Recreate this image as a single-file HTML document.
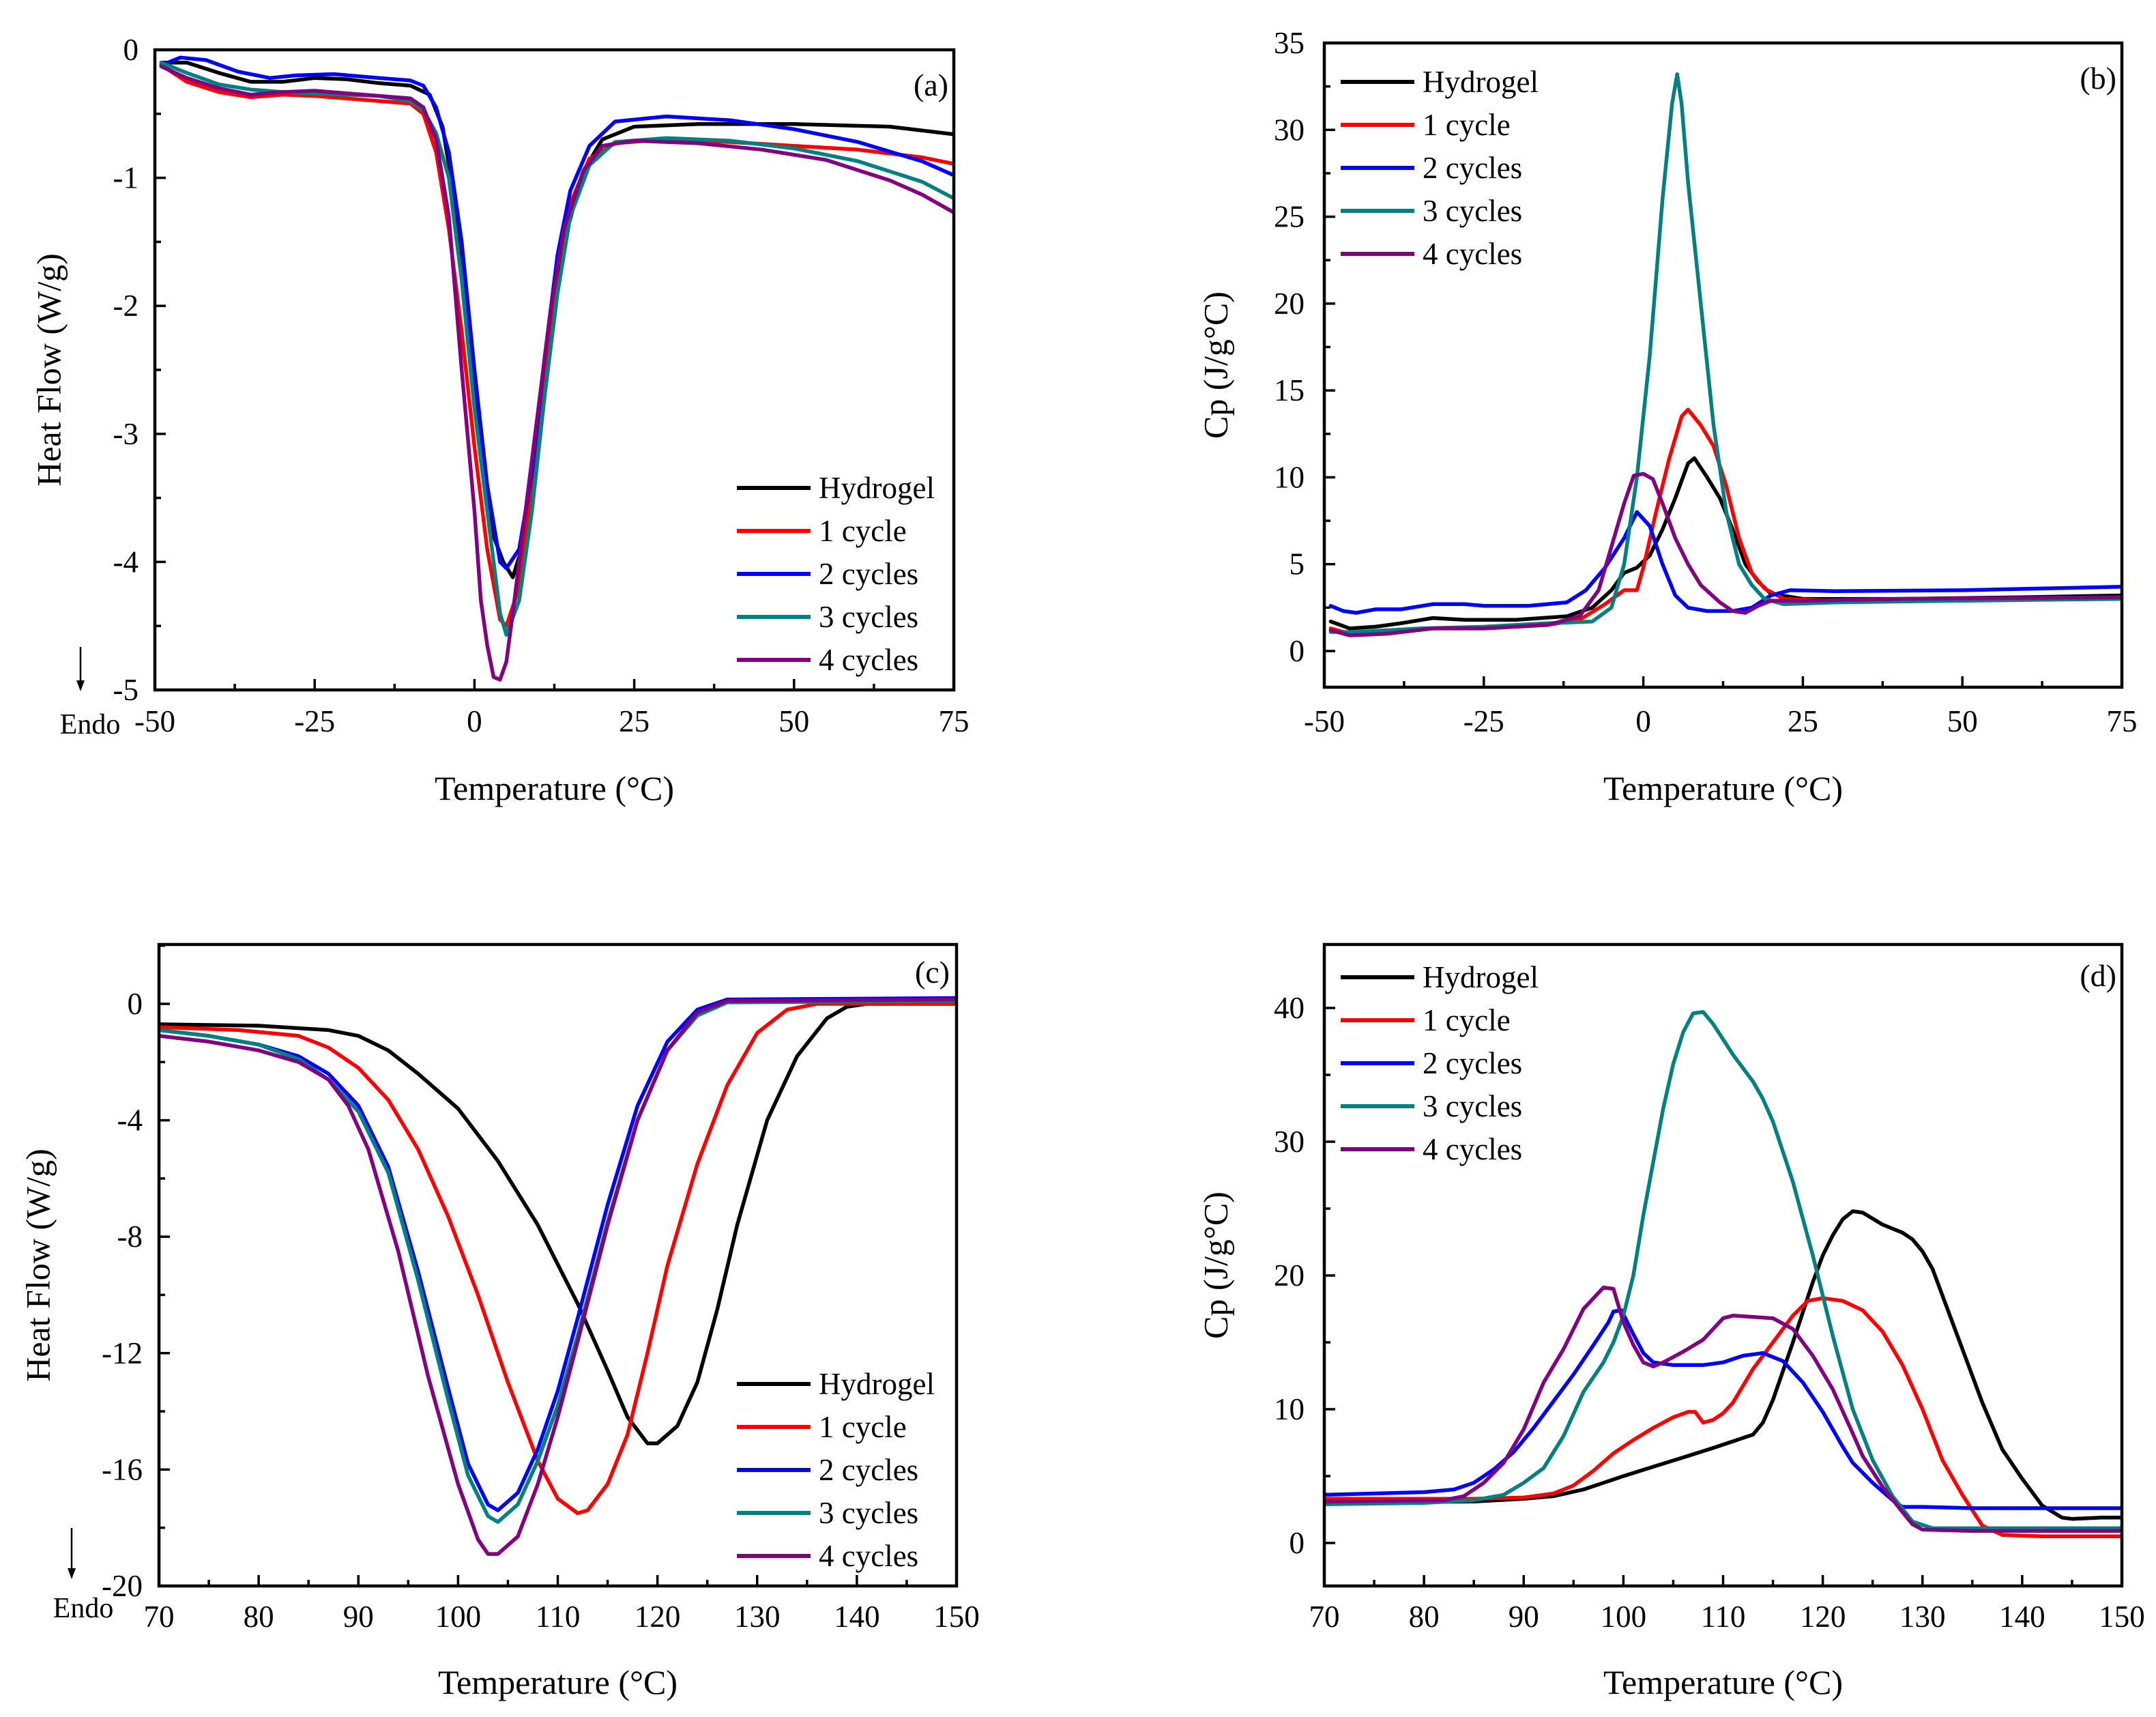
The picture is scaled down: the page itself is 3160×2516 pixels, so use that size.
<!DOCTYPE html>
<html><head><meta charset="utf-8">
<style>
html,body{margin:0;padding:0;background:#fff;}
svg{display:block;}
text{font-family:"Liberation Serif",serif;fill:#000;}
</style></head>
<body>
<svg id="fig" width="3160" height="2516" viewBox="0 0 3160 2516" xmlns="http://www.w3.org/2000/svg"></svg>
<script>
// ---------- data ----------
const seriesNames = ["Hydrogel","1 cycle","2 cycles","3 cycles","4 cycles"];
const seriesColors = ["#000000","#ff0000","#0000ff","#008080","#800080"];

const aHydrogel=[[-49,-0.1],[-45,-0.1],[-40,-0.18],[-35,-0.25],[-30,-0.25],[-25,-0.22],[-20,-0.23],[-15,-0.26],[-10,-0.28],[-7,-0.35],[-5,-0.6],[-3,-1.2],[-1,-2.2],[1,-3.2],[3,-3.8],[4.5,-4.0],[6,-4.12],[8,-3.8],[10,-3.0],[12,-2.2],[14,-1.5],[17,-0.95],[20,-0.7],[25,-0.6],[35,-0.58],[50,-0.58],[65,-0.6],[75,-0.66]];
const aCycle1=[[-49,-0.12],[-45,-0.25],[-40,-0.33],[-35,-0.37],[-30,-0.35],[-25,-0.36],[-20,-0.38],[-15,-0.4],[-10,-0.42],[-8,-0.5],[-6,-0.8],[-4,-1.4],[-2,-2.2],[0,-3.1],[2,-3.9],[4,-4.45],[5,-4.5],[7,-4.2],[9,-3.4],[11,-2.5],[13,-1.7],[15,-1.2],[18,-0.85],[22,-0.73],[30,-0.7],[40,-0.72],[50,-0.75],[60,-0.78],[70,-0.84],[75,-0.89]];
const aCycle2=[[-49,-0.12],[-46,-0.06],[-42,-0.08],[-37,-0.17],[-32,-0.22],[-28,-0.2],[-22,-0.19],[-15,-0.22],[-10,-0.24],[-8,-0.28],[-6,-0.45],[-4,-0.8],[-2,-1.5],[0,-2.5],[2,-3.4],[4,-4.0],[5,-4.05],[7,-3.9],[9,-3.3],[11,-2.4],[13,-1.6],[15,-1.1],[18,-0.75],[22,-0.56],[30,-0.52],[40,-0.55],[50,-0.62],[60,-0.72],[70,-0.87],[75,-0.98]];
const aCycle3=[[-49,-0.1],[-45,-0.18],[-40,-0.27],[-35,-0.31],[-30,-0.33],[-25,-0.34],[-20,-0.35],[-15,-0.36],[-10,-0.4],[-8,-0.47],[-6,-0.65],[-4,-1.0],[-2,-1.8],[0,-2.8],[2,-3.6],[4,-4.4],[5,-4.57],[7,-4.3],[9,-3.6],[11,-2.7],[13,-1.9],[15,-1.3],[18,-0.9],[22,-0.72],[30,-0.69],[40,-0.71],[50,-0.77],[60,-0.87],[70,-1.03],[75,-1.16]];
const aCycle4=[[-49,-0.13],[-45,-0.22],[-40,-0.3],[-35,-0.35],[-30,-0.33],[-25,-0.32],[-20,-0.34],[-15,-0.36],[-10,-0.38],[-8,-0.45],[-6,-0.7],[-4,-1.3],[-2,-2.5],[0,-3.6],[1,-4.3],[2,-4.65],[3,-4.9],[4,-4.92],[5,-4.78],[6,-4.4],[8,-3.6],[10,-2.8],[12,-2.0],[14,-1.4],[17,-0.95],[20,-0.75],[25,-0.71],[35,-0.73],[45,-0.78],[55,-0.86],[65,-1.02],[70,-1.13],[75,-1.27]];

const bHydrogel=[[-49,1.7],[-46,1.3],[-42,1.4],[-38,1.6],[-33,1.9],[-28,1.8],[-20,1.8],[-12,2.0],[-8,2.5],[-5,3.5],[-3,4.5],[-1,4.8],[1,5.5],[3,7],[5,8.8],[7,10.8],[8,11.1],[10,10],[12,8.8],[14,7],[16,5],[18,4],[20,3.3],[25,3.0],[40,3.0],[60,3.1],[75,3.2]];
const bCycle1=[[-49,1.3],[-46,1.0],[-40,1.1],[-33,1.3],[-25,1.3],[-15,1.5],[-10,1.8],[-6,2.7],[-3,3.5],[-1,3.5],[0,4.8],[2,8],[4,11],[6,13.5],[7,13.9],[9,13],[11,11.8],[13,9.5],[15,6.5],[17,4.5],[19,3.6],[22,3.0],[30,2.9],[50,3.0],[75,3.1]];
const bCycle2=[[-49,2.6],[-47,2.3],[-45,2.2],[-42,2.4],[-38,2.4],[-33,2.7],[-28,2.7],[-25,2.6],[-18,2.6],[-12,2.8],[-9,3.5],[-6,4.8],[-3,6.5],[-1,8.0],[1,7.2],[3,5],[5,3.2],[7,2.5],[10,2.3],[14,2.3],[17,2.5],[20,3.2],[23,3.5],[30,3.45],[50,3.5],[75,3.7]];
const bCycle3=[[-49,1.1],[-45,1.1],[-35,1.3],[-25,1.4],[-15,1.6],[-8,1.7],[-5,2.5],[-3,5],[-1,10],[1,17],[3,26],[4.5,31.5],[5.3,33.2],[6,31.5],[7,27],[9,20],[11,13],[13,8],[15,5],[17,3.8],[19,3.0],[22,2.7],[30,2.8],[50,2.9],[75,3.0]];
const bCycle4=[[-49,1.2],[-46,0.9],[-40,1.0],[-33,1.3],[-25,1.3],[-15,1.5],[-10,2.0],[-7,3.5],[-5,6],[-3,8.5],[-1.5,10.1],[0,10.2],[1.5,9.9],[3,8.5],[5,6.5],[7,5],[9,3.8],[12,2.8],[14,2.3],[16,2.2],[18,2.6],[20,2.9],[25,2.9],[40,3.0],[75,3.1]];

const cHydrogel=[[70,-0.7],[80,-0.75],[87,-0.9],[90,-1.1],[93,-1.6],[96,-2.4],[100,-3.6],[104,-5.4],[108,-7.6],[112,-10.3],[115,-12.6],[117,-14.2],[119,-15.1],[120,-15.1],[122,-14.5],[124,-13.0],[126,-10.5],[128,-7.6],[131,-4.0],[134,-1.8],[137,-0.5],[139,-0.1],[141,0.0],[150,0.0]];
const cCycle1=[[70,-0.8],[78,-0.9],[84,-1.1],[87,-1.5],[90,-2.2],[93,-3.3],[96,-5.0],[99,-7.3],[102,-10.0],[105,-13.0],[108,-15.7],[110,-17.0],[112,-17.5],[113,-17.4],[115,-16.5],[117,-14.8],[119,-12.0],[121,-9.0],[124,-5.5],[127,-2.8],[130,-1.0],[133,-0.2],[136,0],[150,0]];
const cCycle2=[[70,-0.9],[75,-1.1],[80,-1.4],[84,-1.8],[87,-2.4],[90,-3.5],[93,-5.6],[96,-9.2],[99,-13.2],[101,-15.8],[103,-17.2],[104,-17.4],[106,-16.8],[108,-15.3],[110,-13.3],[112,-10.8],[115,-6.9],[118,-3.5],[121,-1.3],[124,-0.2],[127,0.15],[150,0.2]];
const cCycle3=[[70,-0.9],[75,-1.1],[80,-1.4],[84,-1.9],[87,-2.6],[90,-3.7],[93,-5.8],[96,-9.5],[99,-13.6],[101,-16.2],[103,-17.6],[104,-17.8],[106,-17.2],[108,-15.7],[110,-13.8],[112,-11.4],[115,-7.5],[118,-4.0],[121,-1.6],[124,-0.4],[127,0.05],[150,0.1]];
const cCycle4=[[70,-1.1],[75,-1.3],[80,-1.6],[84,-2.0],[87,-2.6],[89,-3.5],[91,-5.0],[94,-8.5],[97,-12.8],[100,-16.5],[102,-18.4],[103,-18.9],[104,-18.9],[106,-18.3],[108,-16.5],[110,-14.2],[112,-11.6],[115,-7.6],[118,-4.0],[121,-1.6],[124,-0.3],[127,0.1],[150,0.15]];

const dHydrogel=[[70,3.0],[85,3.1],[90,3.3],[93,3.5],[96,4.0],[98,4.5],[100,5.0],[103,5.7],[106,6.4],[109,7.1],[111,7.6],[113,8.1],[114,9],[115,10.7],[117,15],[119,19.5],[120,21.5],[121,23],[122,24.2],[123,24.8],[124,24.7],[126,23.8],[128,23.2],[129,22.7],[130,21.8],[131,20.5],[132,18.5],[134,14.5],[136,10.5],[138,7.0],[140,4.8],[142,2.8],[144,1.9],[145,1.8],[148,1.9],[150,1.9]];
const dCycle1=[[70,3.3],[85,3.3],[90,3.4],[93,3.7],[95,4.3],[97,5.4],[99,6.7],[101,7.7],[103,8.6],[105,9.4],[106.5,9.8],[107.2,9.8],[108,9.0],[109,9.2],[110,9.7],[111,10.5],[113,13],[115,15],[117,17],[118.5,18.1],[120,18.3],[122,18.1],[124,17.4],[126,15.8],[128,13.3],[130,10],[132,6.2],[134,3.6],[136,1.3],[138,0.6],[142,0.5],[150,0.5]];
const dCycle2=[[70,3.6],[80,3.8],[83,4.0],[85,4.5],[87,5.5],[89,6.8],[91,8.6],[93,10.6],[95,12.6],[97,14.8],[98.5,16.5],[99,17.3],[99.8,17.4],[101,15.6],[102,14.2],[103,13.5],[105,13.3],[108,13.3],[110,13.5],[112,14.0],[114,14.2],[116,13.6],[118,12],[120,9.8],[122,7.2],[123,6],[125,4.5],[127,3.2],[128,2.7],[130,2.7],[135,2.6],[150,2.6]];
const dCycle3=[[70,2.9],[80,3.0],[85,3.2],[88,3.6],[90,4.5],[92,5.6],[94,8],[96,11.3],[98,13.5],[99,15],[100,17],[101,20],[102,24.5],[104,32.5],[105,35.8],[106,38.2],[107,39.6],[108,39.7],[109,38.8],[111,36.5],[113,34.5],[114,33.2],[115,31.5],[117,27],[119,21.5],[121,15.5],[123,10],[125,6.2],[127,3.5],[129,1.6],[131,1.1],[140,1.1],[150,1.1]];
const dCycle4=[[70,3.1],[82,3.2],[84,3.5],[86,4.5],[88,6],[90,8.5],[92,12],[94,14.5],[96,17.5],[98,19.1],[99,19],[100,16.5],[101,14.8],[102,13.5],[103,13.2],[104,13.5],[106,14.3],[108,15.2],[110,16.8],[111,17],[113,16.9],[115,16.8],[117,16],[119,14],[121,11.5],[123,8.2],[124,6.5],[126,4.2],[128,2.3],[129,1.4],[130,1.0],[135,0.9],[150,0.9]];

const xTicksAB=[-50,-25,0,25,50,75];
const xTicksCD=[70,80,90,100,110,120,130,140,150];
const yTicksA=[0,-1,-2,-3,-4,-5];
const yTicksB=[0,5,10,15,20,25,30,35];
const yTicksC=[0,-4,-8,-12,-16,-20];
const yTicksD=[0,10,20,30,40];

// ---------- drawing ----------
const NS="http://www.w3.org/2000/svg";
const svg=document.getElementById('fig');
function mk(tag,attrs,parent){const e=document.createElementNS(NS,tag);for(const k in attrs)e.setAttribute(k,attrs[k]);(parent||svg).appendChild(e);return e;}

const panels=[
 {id:'a',px0:227,px1:1398,xmin:-50,xmax:75,py0:73,vy0:0,py1:1011,vy1:-5,top:73,bottom:1011,xt:xTicksAB,xminor:12.5,yt:yTicksA,yminor:0.5,series:[aHydrogel,aCycle1,aCycle2,aCycle3,aCycle4],
  ytitle:'Heat Flow (W/g)',ytx:77,ylabR:203,legX:1080,legY:715,labX:1390,labY:140,endo:{x:118,y1:948,y2:1013,tx:132,ty:1075},xlabY:1072,xtitY:1172},
 {id:'b',px0:1941,px1:3110,xmin:-50,xmax:75,py0:63,vy0:35,py1:954,vy1:0,top:63,bottom:1007,xt:xTicksAB,xminor:12.5,yt:yTicksB,yminor:2.5,series:[bHydrogel,bCycle1,bCycle2,bCycle3,bCycle4],
  ytitle:'Cp (J/g°C)',ytx:1787,ylabR:1912,legX:1965,legY:120,labX:3102,labY:130,endo:null,xlabY:1072,xtitY:1172},
 {id:'c',px0:233,px1:1402,xmin:70,xmax:150,py0:1471,vy0:0,py1:2324,vy1:-20,top:1384,bottom:2324,xt:xTicksCD,xminor:5,yt:yTicksC,yminor:2,series:[cHydrogel,cCycle1,cCycle2,cCycle3,cCycle4],
  ytitle:'Heat Flow (W/g)',ytx:61,ylabR:209,legX:1080,legY:2028,labX:1392,labY:1440,endo:{x:105,y1:2239,y2:2314,tx:122,ty:2370},xlabY:2384,xtitY:2482},
 {id:'d',px0:1941,px1:3110,xmin:70,xmax:150,py0:2261,vy0:0,py1:1477,vy1:40,top:1384,bottom:2324,xt:xTicksCD,xminor:5,yt:yTicksD,yminor:5,series:[dHydrogel,dCycle1,dCycle2,dCycle3,dCycle4],
  ytitle:'Cp (J/g°C)',ytx:1787,ylabR:1912,legX:1965,legY:1432,labX:3102,labY:1445,endo:null,xlabY:2384,xtitY:2482}
];

panels.forEach(p=>{
  const g=mk('g',{});
  
  
  const X=v=>p.px0+(v-p.xmin)*(p.px1-p.px0)/(p.xmax-p.xmin);
  const Y=v=>p.py0+(v-p.vy0)*(p.py1-p.py0)/(p.vy1-p.vy0);
  const cp=mk('clipPath',{id:'clip'+p.id},g);
  mk('rect',{x:p.px0,y:p.top,width:p.px1-p.px0,height:p.bottom-p.top},cp);
  p.series.forEach((s,i)=>{
    const d=s.map((pt,j)=>(j?'L':'M')+X(pt[0]).toFixed(1)+','+Y(pt[1]).toFixed(1)).join(' ');
    const path=mk('path',{d:d,fill:'none',stroke:seriesColors[i],'stroke-width':5.5,'stroke-linejoin':'round','stroke-linecap':'round','clip-path':'url(#clip'+p.id+')'},g);
    
    
  });
  const fr=mk('rect',{x:p.px0,y:p.top,width:p.px1-p.px0,height:p.bottom-p.top,fill:'none',stroke:'#000','stroke-width':4.5},g);
  
  
  const xax=mk('g',{},g);
  
  
  for(let v=p.xmin;v<=p.xmax+1e-6;v+=p.xminor){
    const major=p.xt.some(t=>Math.abs(t-v)<1e-6);
    mk('line',{x1:X(v),x2:X(v),y1:p.bottom,y2:p.bottom-(major?16:9),stroke:'#000','stroke-width':3.5},xax);
  }
  p.xt.forEach(v=>{const t=mk('text',{x:X(v),y:p.xlabY,'text-anchor':'middle','font-size':45},xax);t.textContent=v;
    
    });
  const yax=mk('g',{},g);
  
  
  const vTop=p.vy0+(p.top-p.py0)*(p.vy1-p.vy0)/(p.py1-p.py0);
  const vBot=p.vy0+(p.bottom-p.py0)*(p.vy1-p.vy0)/(p.py1-p.py0);
  const lo=Math.min(vTop,vBot), hi=Math.max(vTop,vBot);
  for(let v=Math.ceil(lo/p.yminor-1e-6)*p.yminor;v<=hi+1e-6;v+=p.yminor){
    const major=p.yt.some(t=>Math.abs(t-v)<1e-6);
    mk('line',{x1:p.px0,x2:p.px0+(major?16:9),y1:Y(v),y2:Y(v),stroke:'#000','stroke-width':3.5},yax);
  }
  p.yt.forEach(v=>{const t=mk('text',{x:p.ylabR,y:Y(v)+15,'text-anchor':'end','font-size':45},yax);t.textContent=v;
    
    });
  const xt=mk('text',{x:(p.px0+p.px1)/2,y:p.xtitY,'text-anchor':'middle','font-size':50},g);
  xt.textContent='Temperature (°C)';
  
  
  const cy=(p.top+p.bottom)/2;
  const yt=mk('text',{x:p.ytx,y:cy,'text-anchor':'middle','font-size':50,transform:'rotate(-90 '+p.ytx+' '+cy+')','dominant-baseline':'middle'},g);
  yt.textContent=p.ytitle;
  
  
  const pl=mk('text',{x:p.labX,y:p.labY,'text-anchor':'end','font-size':46},g);
  pl.textContent='('+p.id+')';
  
  
  const lg=mk('g',{},g);
  
  
  seriesNames.forEach((n,i)=>{
    const y=p.legY+i*63;
    const e=mk('g',{},lg);
    
    
    mk('line',{x1:p.legX,x2:p.legX+108,y1:y,y2:y,stroke:seriesColors[i],'stroke-width':6},e);
    const t=mk('text',{x:p.legX+120,y:y+15,'font-size':45},e);t.textContent=n;
  });
  if(p.endo){
    const eg=mk('g',{},g);
    
    
    mk('line',{x1:p.endo.x,x2:p.endo.x,y1:p.endo.y1,y2:p.endo.y2-14,stroke:'#000','stroke-width':2.5},eg);
    mk('path',{d:`M${p.endo.x-6},${p.endo.y2-16} L${p.endo.x+6},${p.endo.y2-16} L${p.endo.x},${p.endo.y2} Z`,fill:'#000'},eg);
    const t=mk('text',{x:p.endo.tx,y:p.endo.ty,'text-anchor':'middle','font-size':42},eg);t.textContent='Endo';
  }
});
</script>
</body></html>
